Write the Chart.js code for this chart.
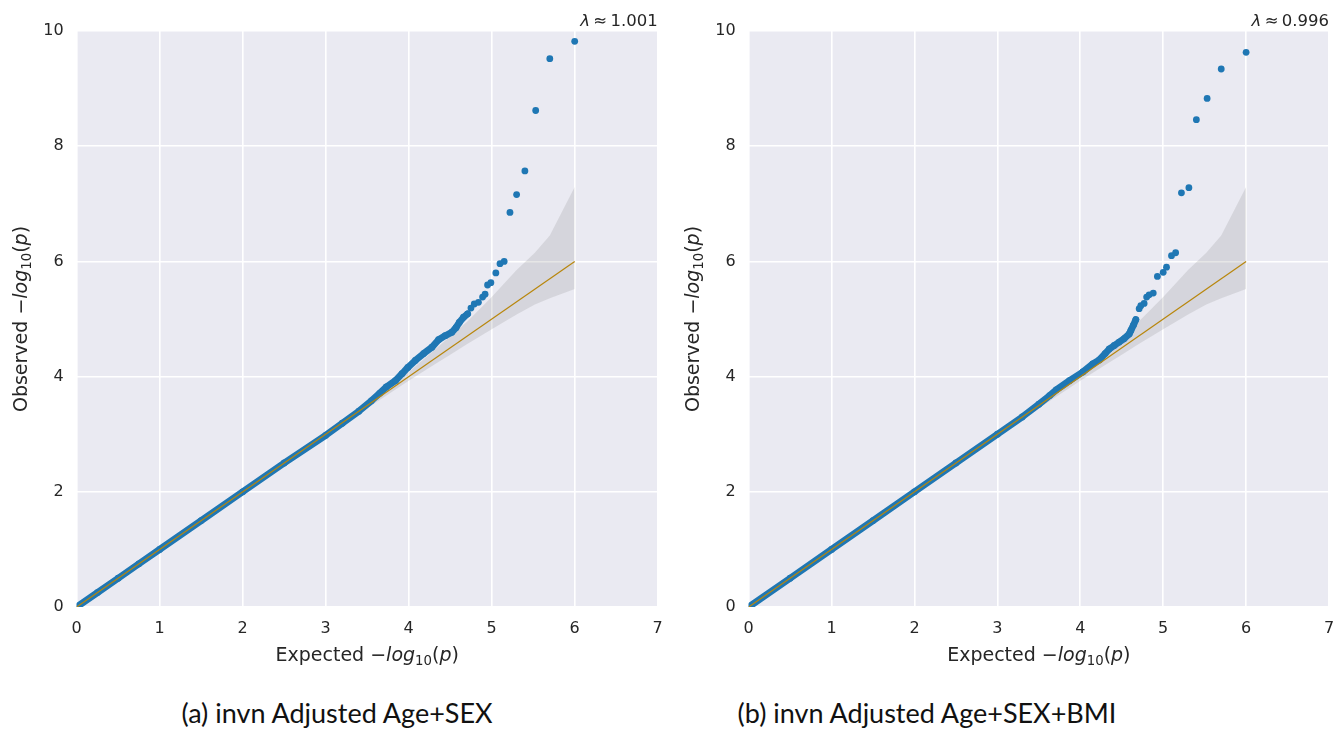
<!DOCTYPE html>
<html><head><meta charset="utf-8">
<script src="https://cdn.jsdelivr.net/npm/chart.js@4.4.0/dist/chart.umd.min.js"></script>
<style>
body{margin:0;background:#fff;width:1338px;height:729px;position:relative;overflow:hidden}
canvas{position:absolute;top:0}
.cap{position:absolute;top:696px;font-family:Lato,"DejaVu Sans",sans-serif;font-size:27px;color:#111;white-space:nowrap;transform:translateX(-50%)}
</style></head><body>
<canvas id="c1" width="669" height="680" style="left:0;width:669px;height:680px"></canvas>
<canvas id="c2" width="669" height="680" style="left:669px;width:669px;height:680px"></canvas>
<div class="cap" style="left:337px">(a) invn Adjusted Age+SEX</div>
<div class="cap" style="left:927px">(b) invn Adjusted Age+SEX+BMI</div>
<script>
// ---- data (expected, observed -log10 p) ----
const xTicks = [0,1,2,3,4,5,6,7];
const yTicks = [0,2,4,6,8,10];
const lambdaA = "1.001";
const lambdaB = "0.996";
const denseA = [[0,0],[0.25,0.25],[0.5,0.5],[0.75,0.75],[1,1],[1.5,1.5],[2,2],[2.5,2.5],[3,2.98],[3.2,3.19],[3.4,3.4],[3.55,3.58],[3.65,3.71],[3.73,3.82],[3.84,3.93],[3.92,4.05],[3.99,4.16],[4.08,4.28],[4.18,4.40],[4.28,4.51],[4.36,4.64],[4.44,4.71],[4.52,4.77],[4.57,4.85],[4.61,4.94],[4.66,5.03],[4.71,5.09]];
const tailA = [[4.75,5.19],[4.79,5.26],[4.84,5.29],[4.89,5.38],[4.92,5.43],[4.95,5.59],[4.99,5.63],[5.05,5.80],[5.10,5.96],[5.15,6.00],[5.22,6.85],[5.30,7.16],[5.40,7.57],[5.53,8.62],[5.70,9.52],[6.00,9.82]];
const denseB = [[0,0],[0.5,0.5],[1,1],[1.5,1.5],[2,2],[2.5,2.5],[3,3.0],[3.3,3.3],[3.5,3.52],[3.63,3.67],[3.71,3.77],[3.87,3.93],[4.03,4.08],[4.15,4.22],[4.23,4.29],[4.30,4.40],[4.35,4.48],[4.41,4.54],[4.47,4.60],[4.53,4.66],[4.59,4.74],[4.61,4.80],[4.64,4.89],[4.67,4.99]];
const tailB = [[4.71,5.18],[4.73,5.23],[4.77,5.27],[4.80,5.38],[4.83,5.42],[4.88,5.45],[4.93,5.74],[5.00,5.81],[5.04,5.90],[5.10,6.10],[5.15,6.15],[5.22,7.19],[5.31,7.28],[5.40,8.46],[5.53,8.83],[5.70,9.34],[6.00,9.63]];
const bandX     = [0,   1,   2,   3,   3.5, 4,    4.3, 4.5, 4.7, 5,    5.3,  5.52, 5.7,  6];
const bandUpper = [0.03,1.02,2.02,3.03,3.55,4.08, 4.45,4.70,4.95,5.38, 5.85, 6.15, 6.45, 7.29];
const bandLower = [0,   0.98,1.98,2.97,3.45,3.93, 4.20,4.38,4.56,4.82, 5.08, 5.25, 5.36, 5.52];
const diag = [[0,0],[6,6]];

const BLUE = '#1f77b4', GOLD = '#b8860b', TXT = '#262626';
const F = '"DejaVu Sans", sans-serif';
const toPts = a => a.map(p => ({x:p[0], y:p[1]}));

function drawRich(ctx, segs, size) {
  const parts = segs.map(([t, s]) => {
    const sz = s === 's' ? size*0.7 : size;
    const font = (s === 'i' ? 'italic ' : '') + sz + 'px ' + F;
    ctx.font = font;
    return {t, font, w: ctx.measureText(t).width, dy: s === 's' ? size*0.22 : 0};
  });
  const total = parts.reduce((a,p)=>a+p.w,0);
  let x = -total/2;
  ctx.textBaseline = 'alphabetic'; ctx.textAlign = 'left';
  for (const p of parts) { ctx.font = p.font; ctx.fillText(p.t, x, p.dy); x += p.w; }
}
const logSegs = [['\u2212',''],['log','i'],['10','s'],['(',''],['p','i'],[')','']];

const decor = {
  id:'decor',
  beforeDraw(chart){
    const {ctx, chartArea:a} = chart;
    ctx.save(); ctx.fillStyle = '#eaeaf2';
    ctx.fillRect(a.left, a.top, a.right-a.left, a.bottom-a.top); ctx.restore();
  },
  afterDraw(chart){
    const {ctx, chartArea:a} = chart;
    const o = chart.options.plugins.decor;
    ctx.save(); ctx.fillStyle = TXT;
    ctx.save(); ctx.translate((a.left+a.right)/2, 661);
    drawRich(ctx, [['Expected ','']].concat(logSegs), 19); ctx.restore();
    ctx.save(); ctx.translate(o.yTitleX, (a.top+a.bottom)/2); ctx.rotate(-Math.PI/2);
    drawRich(ctx, [['Observed ','']].concat(logSegs), 19); ctx.restore();
    ctx.font = '16.5px ' + F; ctx.textAlign='right'; ctx.textBaseline='alphabetic';
    const rest = '\u2009\u2248\u2009' + o.lambda;
    const wr = ctx.measureText(rest).width;
    ctx.fillText(rest, a.right, 26);
    ctx.font = 'italic 16.5px ' + F;
    ctx.fillText('\u03bb', a.right - wr, 26);
    ctx.restore();
  }
};

function makeChart(id, dense, tail, lambda, yW, rightPad, yTitleX) {
  return new Chart(document.getElementById(id), {
    type:'scatter',
    data:{datasets:[
      {data: bandX.map((x,i)=>({x, y:bandUpper[i]})), showLine:true, fill:'+1', backgroundColor:'rgba(140,140,140,0.22)', borderWidth:0, pointRadius:0, order:5},
      {data: bandX.map((x,i)=>({x, y:bandLower[i]})), showLine:true, fill:false, borderWidth:0, pointRadius:0, order:5},
      {data: toPts(dense), showLine:true, borderColor:BLUE, borderWidth:6.8, borderCapStyle:'round', borderJoinStyle:'round', pointRadius:3.4, pointBackgroundColor:BLUE, pointBorderWidth:0, order:3},
      {data: toPts(tail), showLine:false, pointRadius:3.4, pointBackgroundColor:BLUE, pointBorderWidth:0, order:2},
      {data: toPts(diag), showLine:true, borderColor:GOLD, borderWidth:1.2, pointRadius:0, order:1}
    ]},
    options:{
      responsive:false, devicePixelRatio:1, animation:false,
      layout:{padding:{top:31, right:rightPad, left:0, bottom:0}},
      plugins:{legend:{display:false}, tooltip:{enabled:false}, decor:{lambda, yTitleX}},
      scales:{
        x:{type:'linear', min:0, max:7,
          afterBuildTicks: s => { s.ticks = xTicks.map(v=>({value:v})); },
          afterFit: s => { s.height = 73; s.paddingLeft = 0; s.paddingRight = 0; },
          ticks:{color:TXT, font:{family:F, size:16}, padding:12},
          grid:{color:'#ffffff', lineWidth:1.6, drawTicks:false, tickLength:0},
          border:{display:false}},
        y:{type:'linear', min:0, max:10,
          afterBuildTicks: s => { s.ticks = yTicks.map(v=>({value:v})); },
          afterFit: s => { s.width = yW; s.paddingTop = 0; s.paddingBottom = 0; },
          ticks:{color:TXT, font:{family:F, size:16}, padding:13},
          grid:{color:'#ffffff', lineWidth:1.6, drawTicks:false, tickLength:0},
          border:{display:false}}
      }
    },
    plugins:[decor]
  });
}
makeChart('c1', denseA, tailA, lambdaA, 76.7, 11.3, 27);
makeChart('c2', denseB, tailB, lambdaB, 79.7, 9, 30);
</script>
</body></html>
